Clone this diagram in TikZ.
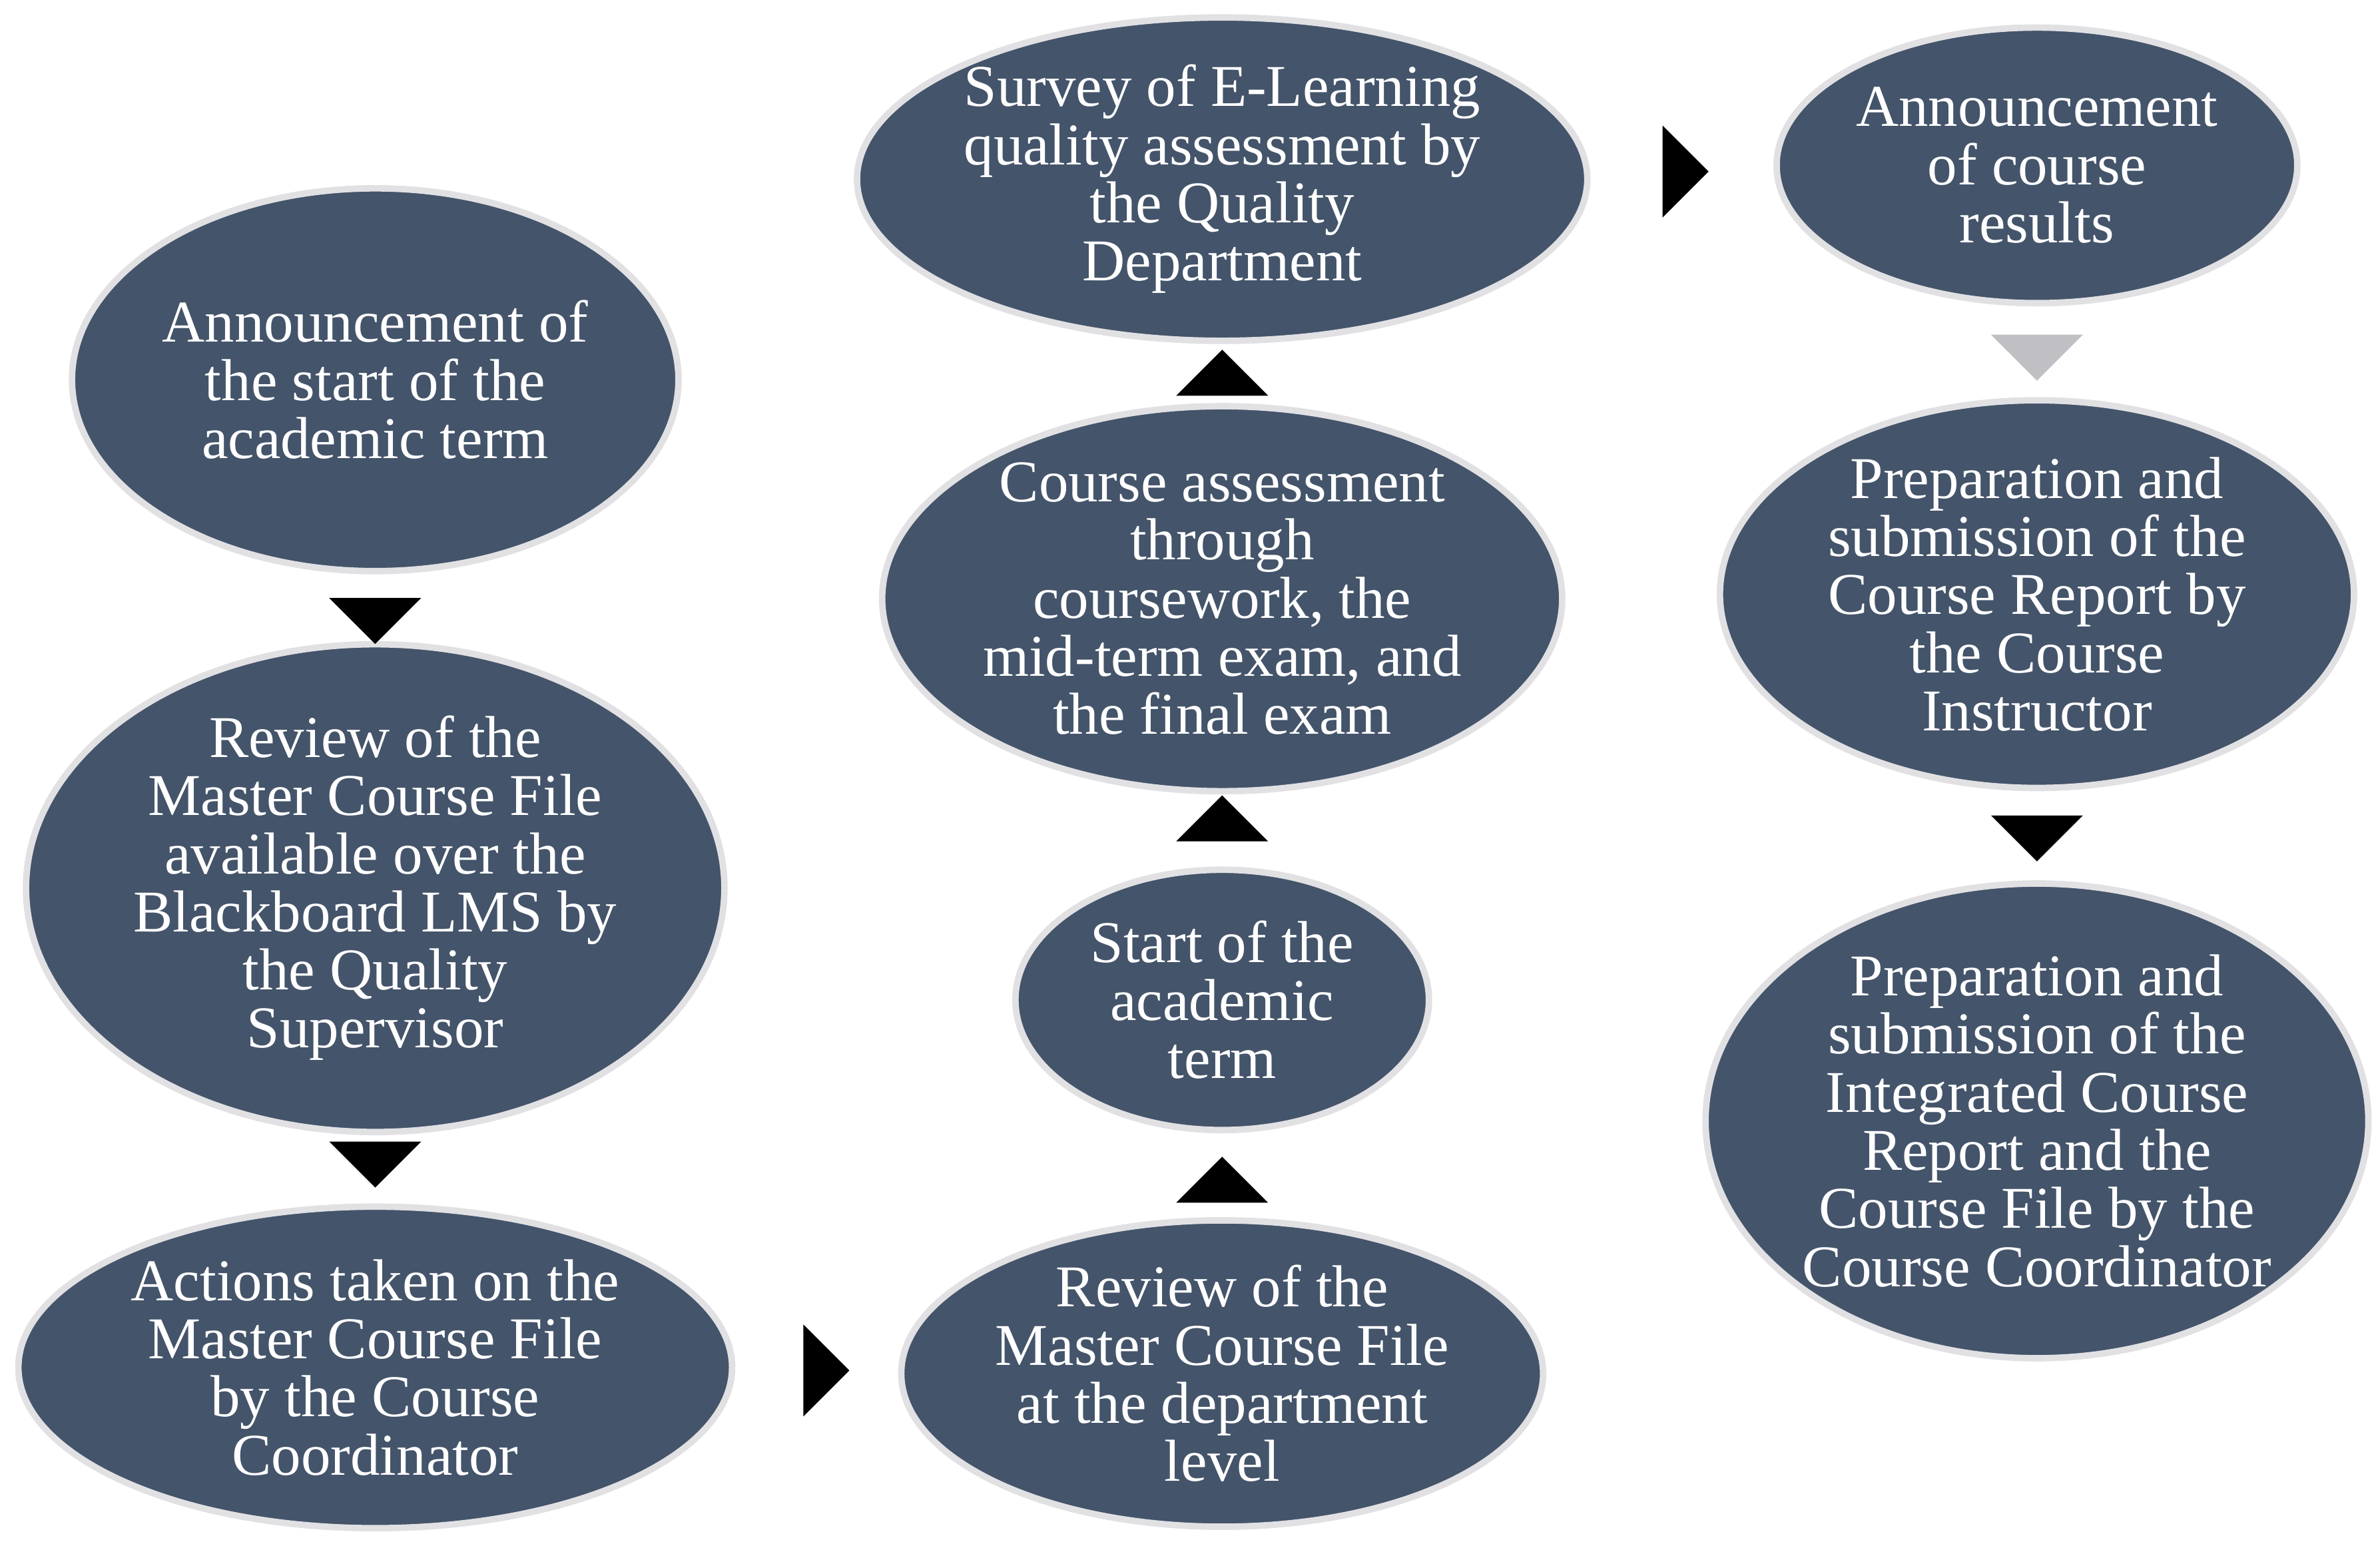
\documentclass[tikz,border=0pt]{standalone}
\usepackage{fontspec}
\setmainfont{Liberation Serif}
\usetikzlibrary{shapes.geometric}
\definecolor{stepfill}{RGB}{68,84,106}
\definecolor{stepline}{RGB}{225,225,228}
\definecolor{chevgray}{RGB}{191,191,196}
\tikzset{
  stage/.style={ellipse, fill=stepfill, draw=stepline, line width=1.2pt, inner sep=0pt,
    text=white, align=center, font=\fontsize{11}{10.8}\selectfont},
  chev/.style={isosceles triangle, isosceles triangle apex angle=90, isosceles triangle stretches,
    fill=black, inner sep=0pt, minimum width=0.6cm, minimum height=0.3cm},
  chevdown/.style={chev, shape border rotate=-90},
  chevup/.style={chev, shape border rotate=90},
  chevright/.style={chev, shape border rotate=0}
}
\begin{document}
\begin{tikzpicture}
  \useasboundingbox (0,0) rectangle (15.54,10.08);
  % Left column
  \node[stage, minimum width=3.96cm, minimum height=2.50cm] (annstart) at (2.45,7.60)
    {Announcement of\\the start of the\\academic term};
  \node[stage, minimum width=4.56cm, minimum height=2.96cm] (reviewlms) at (2.45,4.28)
    {Review of the\\Master Course File\\available over the\\Blackboard LMS by\\the Quality\\Supervisor};
  \node[stage, minimum width=4.66cm, minimum height=2.10cm] (actions) at (2.45,1.15)
    {Actions taken on the\\Master Course File\\by the Course\\Coordinator};
  % Middle column
  \node[stage, minimum width=4.10cm, minimum height=1.96cm] (reviewdept) at (7.98,1.11)
    {Review of the\\Master Course File\\at the department\\level};
  \node[stage, minimum width=2.70cm, minimum height=1.70cm] (termstart) at (7.98,3.55)
    {Start of the\\academic\\term};
  \node[stage, minimum width=4.44cm, minimum height=2.26cm] (assess) at (7.98,6.17)
    {Course assessment\\through\\coursework, the\\mid-term exam, and\\the final exam};
  \node[stage, minimum width=4.70cm, minimum height=1.96cm] (survey) at (7.98,8.91)
    {Survey of E-Learning\\quality assessment by\\the Quality\\Department};
  % Right column
  \node[stage, minimum width=3.40cm, minimum height=1.80cm] (results) at (13.30,9.00)
    {Announcement\\of course\\results};
  \node[stage, minimum width=4.14cm, minimum height=2.50cm] (report) at (13.30,6.20)
    {Preparation and\\submission of the\\Course Report by\\the Course\\Instructor};
  \node[stage, minimum width=4.20cm, minimum height=3.10cm] (integrated) at (13.30,2.76)
    {Preparation and\\submission of the\\Integrated Course\\Report and the\\Course File by the\\Course Coordinator};
  % Chevrons
  \node[chevdown] (c1) at (2.45,6.05) {};
  \node[chevdown] (c2) at (2.45,2.50) {};
  \node[chevright] (c3) at (5.37,1.13) {};
  \node[chevup] (c4) at (7.98,2.35) {};
  \node[chevup] (c5) at (7.98,4.71) {};
  \node[chevup] (c6) at (7.98,7.62) {};
  \node[chevright] (c7) at (10.98,8.96) {};
  \node[chevdown, fill=chevgray] (c8) at (13.30,7.77) {};
  \node[chevdown] (c9) at (13.30,4.63) {};
\end{tikzpicture}
\end{document}
